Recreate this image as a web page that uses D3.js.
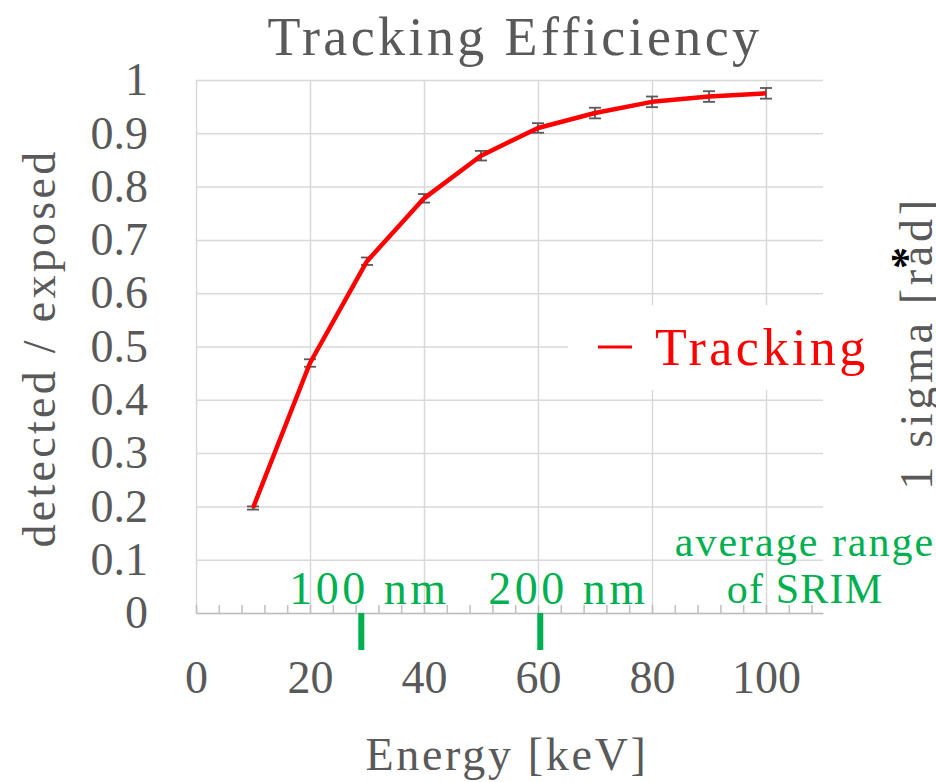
<!DOCTYPE html>
<html lang="en">
<head>
  <meta charset="UTF-8" />
  <title>Tracking Efficiency</title>
  <script src="https://cdn.jsdelivr.net/npm/d3@7/dist/d3.min.js"></script>
  <style>
    body { margin: 0; background: #fff; }
    svg text { font-family: "Liberation Serif", "DejaVu Serif", serif; }
    .grid line { stroke: #d9d9d9; stroke-width: 1.5; }
    .grid path { display: none; }
  </style>
</head>
<body>
  <div id="chart"></div>
  <script>
    // energy [keV] and tracking efficiency (detected / exposed)
    var energy = [10, 20, 30, 40, 50, 60, 70, 80, 90, 100];
    var efficiency = [0.197, 0.469, 0.660, 0.778, 0.858, 0.910, 0.938, 0.959, 0.969, 0.975];
    var errors = [0.003, 0.007, 0.007, 0.008, 0.009, 0.009, 0.01, 0.01, 0.01, 0.01];

    var xTicks = [0, 20, 40, 60, 80, 100];
    var yTicks = [0, 0.1, 0.2, 0.3, 0.4, 0.5, 0.6, 0.7, 0.8, 0.9, 1];

    // SRIM average range marks (energy where range = 100 nm / 200 nm)
    var rangeLabels = ["100 nm", "200 nm"];
    var rangeEnergy = [29, 60.4];

    var W = 936, H = 782;
    var margin = { left: 196, top: 80, right: 113, bottom: 169 };
    var width = W - margin.left - margin.right;
    var height = H - margin.top - margin.bottom;
    var grey = "#595959", green = "#00b050";

    var svg = d3.select("#chart").append("svg")
      .attr("width", W).attr("height", H);
    var g = svg.append("g")
      .attr("transform", "translate(" + margin.left + "," + margin.top + ")");

    var x = d3.scaleLinear().domain([0, 110]).range([0, width]);
    var y = d3.scaleLinear().domain([0, 1]).range([height, 0]);

    // gridlines
    g.append("g").attr("class", "grid")
      .call(d3.axisLeft(y).tickValues(yTicks).tickSize(-width).tickFormat(""));
    g.append("g").attr("class", "grid")
      .attr("transform", "translate(0," + height + ")")
      .call(d3.axisBottom(x).tickValues(xTicks).tickSize(height).tickFormat(""))
      .call(function(s) { s.selectAll("line").attr("y2", -height); });

    // x axis line and minor ticks (pointing up)
    var minor = g.append("g")
      .attr("transform", "translate(0," + height + ")")
      .call(d3.axisBottom(x).tickValues(d3.range(0, 111, 4)).tickSize(-8).tickSizeOuter(0).tickFormat(""));
    minor.selectAll("line").attr("stroke", "#bfbfbf").attr("stroke-width", 1.5);
    minor.select("path").attr("stroke", "#bfbfbf").attr("stroke-width", 1.5);

    // tick labels
    var xa = g.append("g")
      .attr("transform", "translate(0," + height + ")")
      .call(d3.axisBottom(x).tickValues(xTicks).tickSize(0).tickPadding(47));
    xa.select("path").remove();
    xa.selectAll("text").attr("fill", grey).style("font-size", "46px");

    var ya = g.append("g")
      .call(d3.axisLeft(y).tickValues(yTicks).tickSize(0).tickPadding(48).tickFormat(d3.format("~g")));
    ya.select("path").remove();
    ya.selectAll("text").attr("fill", grey).style("font-size", "46px");

    // error bars
    var eb = g.append("g").selectAll("g").data(energy).join("g")
      .attr("stroke", grey).attr("stroke-width", 1.8);
    eb.append("line")
      .attr("x1", function(d) { return x(d); }).attr("x2", function(d) { return x(d); })
      .attr("y1", function(d, i) { return y(efficiency[i] - errors[i]); })
      .attr("y2", function(d, i) { return y(efficiency[i] + errors[i]); });
    [-1, 1].forEach(function(s) {
      eb.append("line")
        .attr("x1", function(d) { return x(d) - 6; }).attr("x2", function(d) { return x(d) + 6; })
        .attr("y1", function(d, i) { return y(efficiency[i] + s * errors[i]); })
        .attr("y2", function(d, i) { return y(efficiency[i] + s * errors[i]); });
    });

    // tracking line
    var line = d3.line()
      .x(function(d) { return x(d); })
      .y(function(d, i) { return y(efficiency[i]); });
    g.append("path").datum(energy)
      .attr("d", line)
      .attr("fill", "none").attr("stroke", "#ff0000").attr("stroke-width", 4.5)
      .attr("stroke-linejoin", "round");

    // legend
    var lg = svg.append("g");
    lg.append("rect").attr("x", 568).attr("y", 305).attr("width", 317).attr("height", 85).attr("fill", "#fff");
    lg.append("line").attr("x1", 598).attr("x2", 632).attr("y1", 347).attr("y2", 347)
      .attr("stroke", "#ff0000").attr("stroke-width", 3);
    lg.append("text").attr("x", 655).attr("y", 365)
      .attr("fill", "#ff0000").style("font-size", "52px").style("letter-spacing", "3.5px").text("Tracking");

    // SRIM range marks
    g.selectAll(".rmark").data(rangeEnergy).join("rect")
      .attr("x", function(d) { return x(d) - 3; }).attr("y", height)
      .attr("width", 6).attr("height", 37).attr("fill", green);
    var labelOffset = [8, 28];
    g.selectAll(".rlab").data(rangeLabels).join("text")
      .attr("x", function(d, i) { return x(rangeEnergy[i]) + labelOffset[i]; })
      .attr("y", height - 9)
      .attr("text-anchor", "middle").attr("fill", green)
      .style("font-size", "46px").style("letter-spacing", "3.5px")
      .text(function(d) { return d; });
    svg.append("text").attr("x", 805).attr("y", 556).attr("text-anchor", "middle")
      .attr("fill", green).style("font-size", "42px").style("letter-spacing", "2px").text("average range");
    svg.append("text").attr("x", 805).attr("y", 603).attr("text-anchor", "middle")
      .attr("fill", green).style("font-size", "42px").style("letter-spacing", "1.2px").text("of SRIM");

    // titles
    svg.append("text").attr("x", 515).attr("y", 55).attr("text-anchor", "middle")
      .attr("fill", grey).style("font-size", "54px").style("letter-spacing", "3.4px")
      .text("Tracking Efficiency");
    svg.append("text").attr("x", 507).attr("y", 770).attr("text-anchor", "middle")
      .attr("fill", grey).style("font-size", "46px").style("letter-spacing", "2.7px")
      .text("Energy [keV]");
    svg.append("text").attr("transform", "translate(55,348) rotate(-90)")
      .attr("text-anchor", "middle").attr("fill", grey)
      .style("font-size", "46px").style("letter-spacing", "3.3px")
      .text("detected / exposed");
    svg.append("text").attr("transform", "translate(932,343) rotate(-90)")
      .attr("text-anchor", "middle").attr("fill", grey)
      .style("font-size", "46px").style("letter-spacing", "3.7px")
      .text("1 sigma [rad]");
    svg.append("text").attr("transform", "translate(921,258) rotate(-90)")
      .attr("text-anchor", "middle").attr("fill", "#000").style("font-size", "44px")
      .style("font-weight", "bold").text("*");
  </script>
</body>
</html>
